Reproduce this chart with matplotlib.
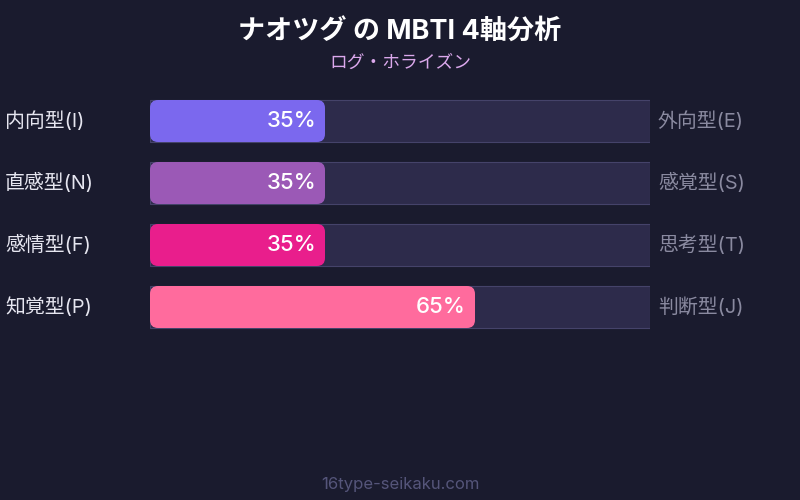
import matplotlib
matplotlib.use("Agg")
import matplotlib.pyplot as plt
from matplotlib.patches import FancyBboxPatch, Rectangle

plt.rcParams['font.family'] = ['Inter', 'Noto Sans CJK JP', 'DejaVu Sans']

title = "ナオツグ の MBTI 4軸分析"
subtitle = "ログ・ホライズン"
left_labels = ["内向型(I)", "直感型(N)", "感情型(F)", "知覚型(P)"]
right_labels = ["外向型(E)", "感覚型(S)", "思考型(T)", "判断型(J)"]
values = [35, 35, 35, 65]
colors = ["#7B68EE", "#9B59B6", "#E91E8C", "#FF6B9D"]
footer = "16type-seikaku.com"

BG = "#1a1b2e"
TRACK = "#2d2b4b"
TRACK_EDGE = "#45436a"

W, H = 800, 500
fig = plt.figure(figsize=(8, 5), dpi=100, facecolor=BG)

# full-figure overlay for texts
tax = fig.add_axes([0, 0, 1, 1])
tax.set_xlim(0, W)
tax.set_ylim(H, 0)
tax.axis("off")
tax.set_facecolor(BG)

tax.text(400, 33, title, ha="center", va="center", color="white",
         fontsize=19.5, fontweight="bold")
tax.text(400, 63, subtitle, ha="center", va="center", color="#dba8ec",
         fontsize=12.8)
tax.text(400, 484, footer, ha="center", va="center", color="#55557a",
         fontsize=12)

# bar axes: x 0-100 maps to px 150-650; rows 62 px apart
row_px = 62
top_px = 90
n = len(values)
ax = fig.add_axes([150 / W, (H - (top_px + n * row_px)) / H, 500 / W, n * row_px / H])
ax.set_xlim(0, 100)
ax.set_ylim(n - 0.5, -0.5)
ax.axis("off")
ax.patch.set_alpha(0)

bar_h = 42 / row_px
px_per_x = 500 / 100
radius_px = 8
for i, (v, c) in enumerate(zip(values, colors)):
    ax.add_patch(Rectangle((0, i - bar_h / 2), 100, bar_h, facecolor=TRACK,
                           edgecolor=TRACK_EDGE, linewidth=0.8))
    ax.add_patch(FancyBboxPatch((0, i - bar_h / 2), v, bar_h,
                                boxstyle=f"round,pad=0,rounding_size={radius_px / px_per_x}",
                                mutation_aspect=px_per_x / row_px,
                                facecolor=c, edgecolor="none"))
    ax.text(v - 9 / px_per_x, i, f"{v}%", ha="right", va="center",
            color="white", fontsize=16, fontweight="medium")
    tax.text(5, top_px + row_px * (i + 0.5), left_labels[i], ha="left", va="center",
             color="#e6e6f0", fontsize=14.3)
    tax.text(658, top_px + row_px * (i + 0.5), right_labels[i], ha="left", va="center",
             color="#8a8aa0", fontsize=14.3)

fig.savefig("out.png", dpi=100, facecolor=BG)
